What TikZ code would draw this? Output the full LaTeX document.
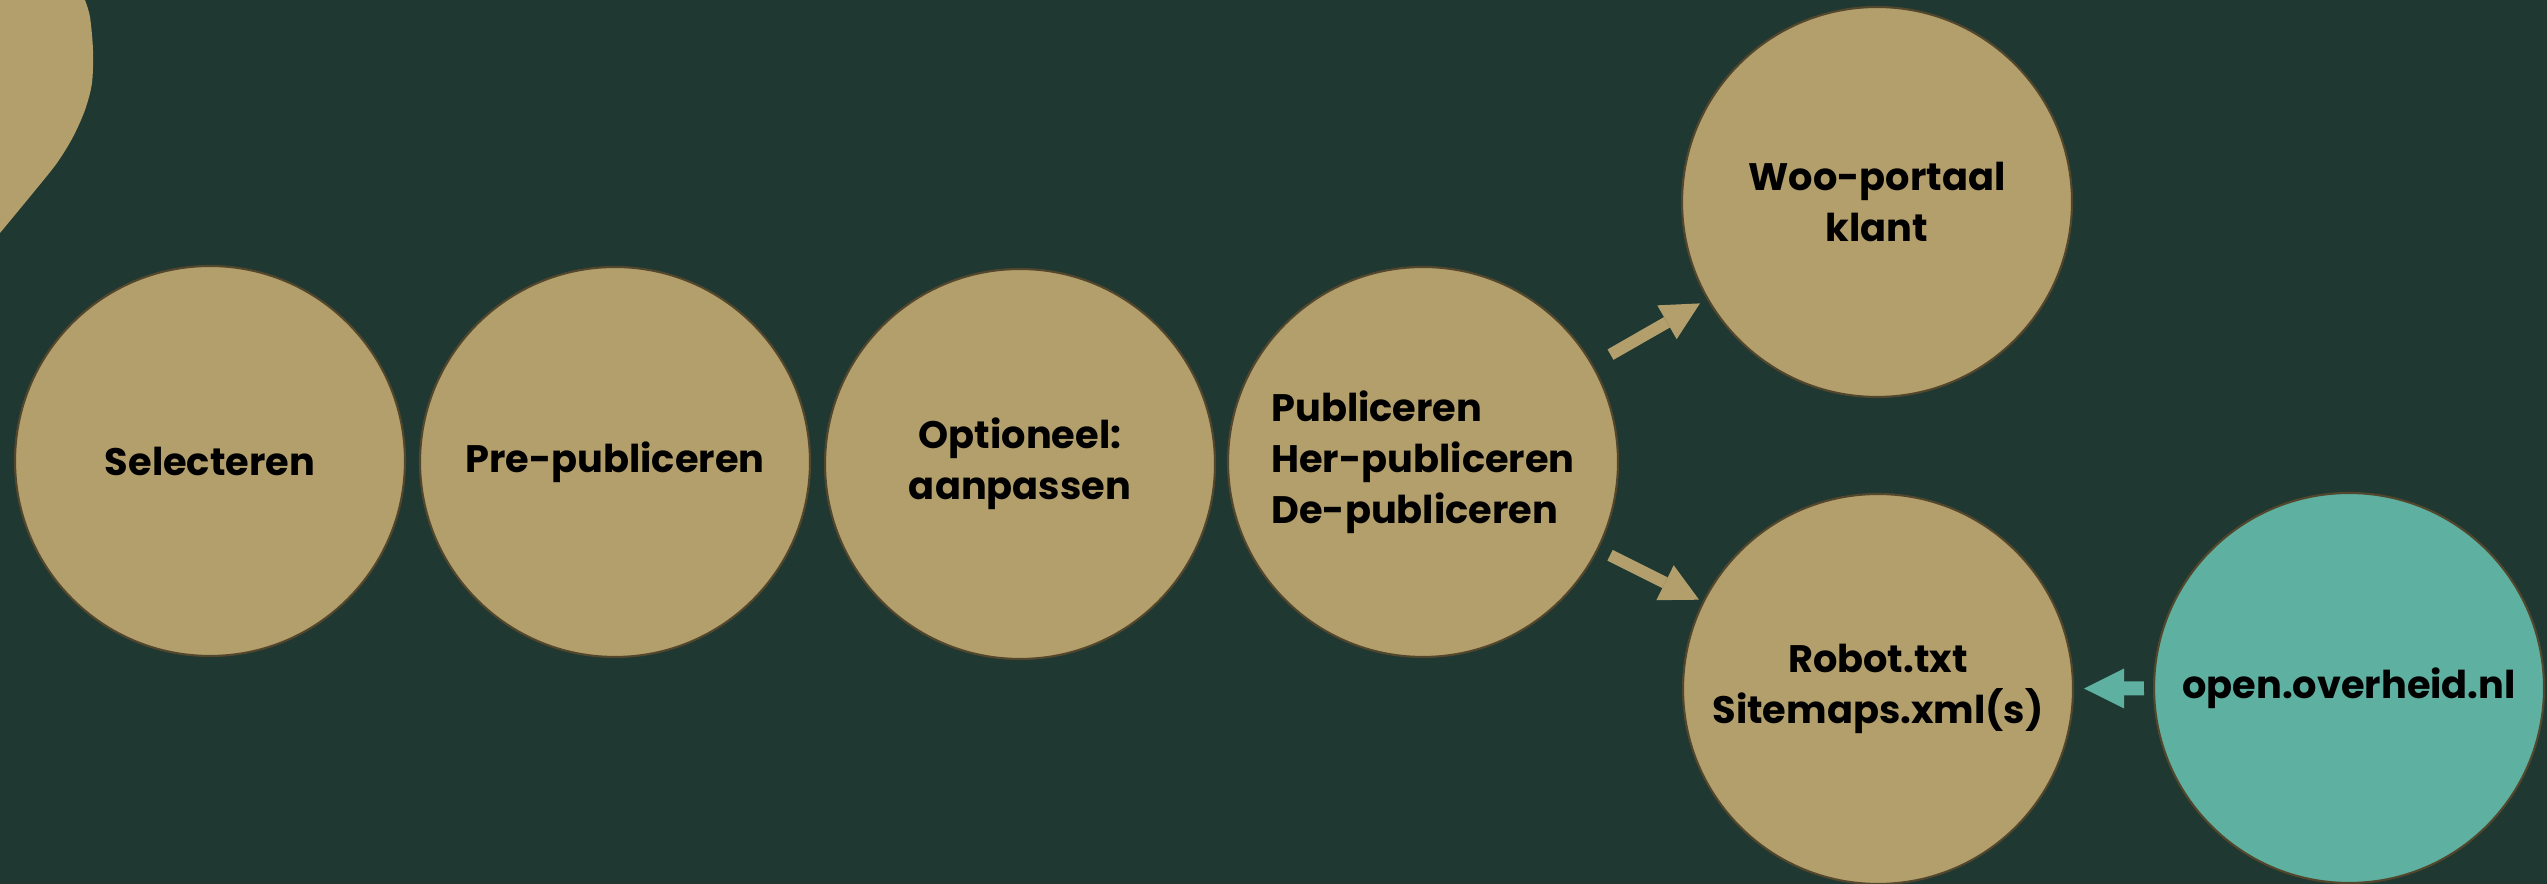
\documentclass[tikz,border=0pt]{standalone}
\usepackage{fontspec}
\setmainfont{Poppins}
\usetikzlibrary{arrows.meta, positioning}
\definecolor{bgdark}{RGB}{32, 56, 50}
\definecolor{sand}{RGB}{179, 159, 108}
\definecolor{sandline}{RGB}{82, 70, 44}
\definecolor{openteal}{RGB}{94, 176, 160}

\begin{document}
\begin{tikzpicture}[
    stage/.style={circle, draw=sandline, line width=0.6pt, fill=sand, minimum size=3.9cm,
                  inner sep=0pt, align=center, font=\bfseries\fontsize{10.9}{14.5}\selectfont},
    flow/.style={draw=sand, line width=0.12cm,
                 -{Triangle[length=0.38cm, width=0.39cm, line width=0pt]}}]

    % Background
    \useasboundingbox (0,0) rectangle (25.47,8.84);
    \fill[bgdark] (0,0) rectangle (25.47,8.84);

    % Shape in the corner
    \fill[sand] (0,8.84) -- plot[smooth] coordinates {(0.85,8.84) (0.90,8.67) (0.93,8.34)
        (0.92,8.01) (0.85,7.74) (0.73,7.47) (0.57,7.21) (0.33,6.91) (0,6.51)} -- cycle;

    % Steps
    \node[stage] (select) at (2.10, 4.23) {Selecteren};
    \node[stage] (prepub) at (6.15, 4.22) {Pre-publiceren};
    \node[stage] (adjust) at (10.20, 4.20) {Optioneel:\\aanpassen};
    \node[stage, align=left] (publish) at (14.23, 4.22) {Publiceren\\Her-publiceren\\De-publiceren};

    % Targets
    \node[stage] (portal) at (18.77, 6.82) {Woo-portaal\\klant};
    \node[stage] (robots) at (18.78, 1.95) {Robot.txt\\Sitemaps.xml(s)};
    \node[stage, fill=openteal] (openov) at (23.49, 1.96) {open.overheid.nl};

    % Arrows
    \draw[flow, shorten <=0.2cm, shorten >=0.08cm] (publish) -- (portal);
    \draw[flow, shorten <=0.13cm, shorten >=0.04cm] (publish) -- (robots);
    \draw[flow, draw=openteal, line width=0.14cm, shorten <=0.09cm, shorten >=0.1cm,
          -{Triangle[length=0.4cm, width=0.4cm, line width=0pt]}] (openov) -- (robots);
\end{tikzpicture}
\end{document}
